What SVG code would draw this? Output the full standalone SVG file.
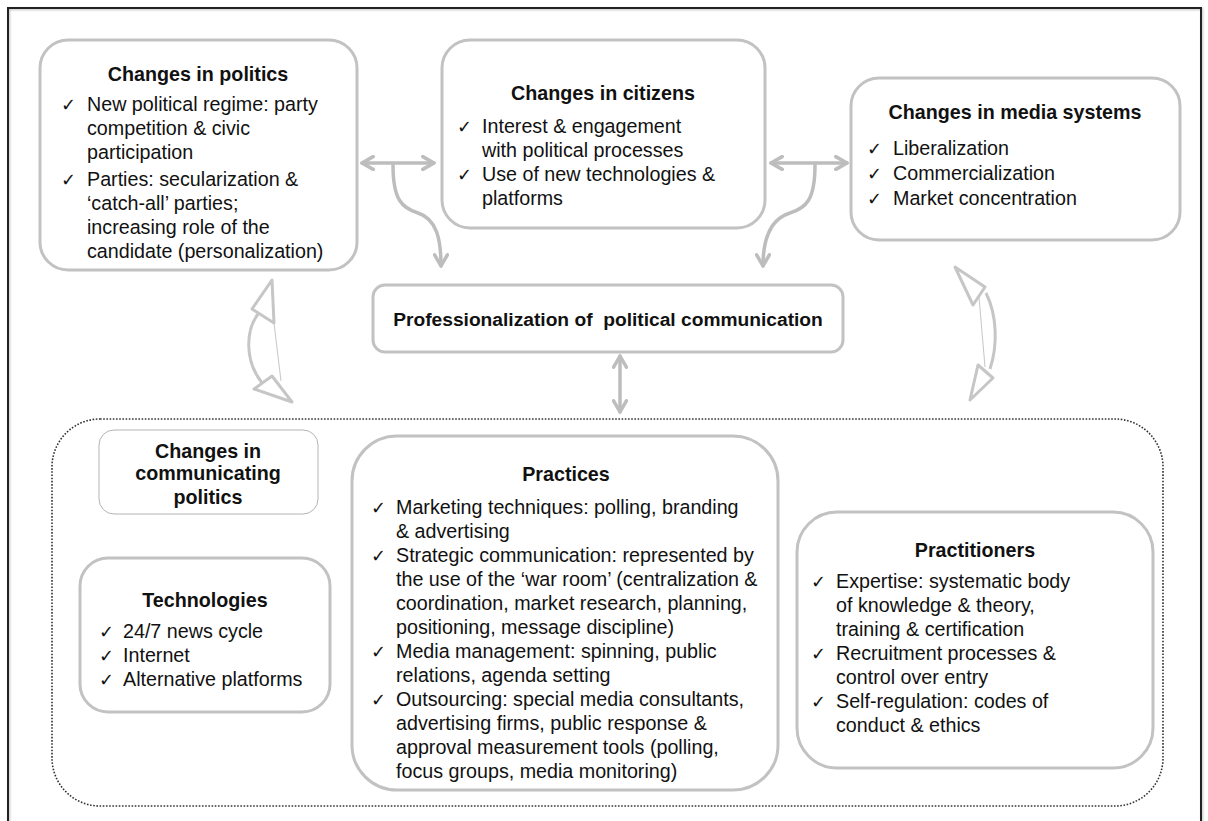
<svg xmlns="http://www.w3.org/2000/svg" width="1208" height="821" viewBox="0 0 1208 821">
  <defs>
    <style>
      .box { fill: #ffffff; stroke: #c2c2c2; stroke-width: 3; }
      .thin { fill: #ffffff; stroke: #b4b4b4; stroke-width: 1; }
      .t { font-family: "Liberation Sans", Arial, sans-serif; font-size: 19.7px; fill: #111111; }
      .h { font-weight: bold; text-anchor: middle; }
      .ck { font-family: "DejaVu Sans", sans-serif; font-size: 18px; fill: #111111; }
      .link { fill: none; stroke: #bdbdbd; stroke-width: 3.5; stroke-linecap: round; }
      .block { fill: #ffffff; stroke: #c6c6c6; stroke-width: 3; stroke-linejoin: round; }
      .seam { fill: none; stroke: #c6c6c6; stroke-width: 1; }
    </style>
    <marker id="chev" viewBox="0 0 10 10" refX="8.5" refY="5" markerUnits="userSpaceOnUse" markerWidth="16" markerHeight="16" orient="auto-start-reverse">
      <path d="M1.5,1 L8.5,5 L1.5,9" fill="none" stroke="#bdbdbd" stroke-width="2.2" stroke-linecap="round" stroke-linejoin="round"/>
    </marker>
    <filter id="shadow" x="-5%" y="-5%" width="110%" height="110%">
      <feDropShadow dx="1" dy="1" stdDeviation="1" flood-color="#000" flood-opacity="0.25"/>
    </filter>
  </defs>

  <rect width="1208" height="821" fill="#ffffff"/>
  <!-- page frame -->
  <rect x="8" y="8" width="1193" height="840" fill="none" stroke="#222" stroke-width="2" filter="url(#shadow)"/>

  <!-- dotted enclosure for communicating politics -->
  <rect id="enclosure" x="52" y="419" width="1111" height="387" rx="48" fill="none" stroke="#333" stroke-width="1.6" stroke-dasharray="1.6 1.6"/>

  <g id="politics">
    <rect class="box" x="40" y="40" width="317" height="230" rx="28"/>
    <text class="t h" x="198" y="81">Changes in politics</text>
    <text class="ck" x="61" y="111">✓</text>
    <text class="t" x="87" y="111">New political regime: party</text>
    <text class="t" x="87" y="135">competition &amp; civic</text>
    <text class="t" x="87" y="159">participation</text>
    <text class="ck" x="61" y="186">✓</text>
    <text class="t" x="87" y="186">Parties: secularization &amp;</text>
    <text class="t" x="87" y="210">‘catch-all’ parties;</text>
    <text class="t" x="87" y="234">increasing role of the</text>
    <text class="t" x="87" y="258">candidate (personalization)</text>
  </g>

  <g id="citizens">
    <rect class="box" x="442" y="40" width="323" height="188" rx="28"/>
    <text class="t h" x="603" y="100">Changes in citizens</text>
    <text class="ck" x="457" y="133">✓</text>
    <text class="t" x="482" y="133">Interest &amp; engagement</text>
    <text class="t" x="482" y="157">with political processes</text>
    <text class="ck" x="457" y="181">✓</text>
    <text class="t" x="482" y="181">Use of new technologies &amp;</text>
    <text class="t" x="482" y="205">platforms</text>
  </g>

  <g id="media">
    <rect class="box" x="851" y="78" width="329" height="162" rx="28"/>
    <text class="t h" x="1015" y="119">Changes in media systems</text>
    <text class="ck" x="867" y="155">✓</text>
    <text class="t" x="893" y="155">Liberalization</text>
    <text class="ck" x="867" y="180">✓</text>
    <text class="t" x="893" y="180">Commercialization</text>
    <text class="ck" x="867" y="205">✓</text>
    <text class="t" x="893" y="205">Market concentration</text>
  </g>

  <g id="professionalization">
    <rect class="box" x="373" y="285" width="470" height="67" rx="12"/>
    <text class="t h" x="608" y="326" style="font-size:19.2px; white-space:pre">Professionalization of  political communication</text>
  </g>

  <g id="communicating">
    <rect class="thin" x="99" y="430" width="219" height="84" rx="15"/>
    <text class="t h" x="208" y="458">Changes in</text>
    <text class="t h" x="208" y="480">communicating</text>
    <text class="t h" x="208" y="504">politics</text>
  </g>

  <g id="technologies">
    <rect class="box" x="80" y="558" width="250" height="154" rx="28"/>
    <text class="t h" x="205" y="607">Technologies</text>
    <text class="ck" x="99" y="638">✓</text>
    <text class="t" x="123" y="638">24/7 news cycle</text>
    <text class="ck" x="99" y="662">✓</text>
    <text class="t" x="123" y="662">Internet</text>
    <text class="ck" x="99" y="686">✓</text>
    <text class="t" x="123" y="686">Alternative platforms</text>
  </g>

  <g id="practices">
    <rect class="box" x="352" y="436" width="426" height="354" rx="45"/>
    <text class="t h" x="566" y="481">Practices</text>
    <text class="ck" x="371" y="514">✓</text>
    <text class="t" x="396" y="514">Marketing techniques: polling, branding</text>
    <text class="t" x="396" y="538">&amp; advertising</text>
    <text class="ck" x="371" y="562">✓</text>
    <text class="t" x="396" y="562">Strategic communication: represented by</text>
    <text class="t" x="396" y="586">the use of the ‘war room’ (centralization &amp;</text>
    <text class="t" x="396" y="610">coordination, market research, planning,</text>
    <text class="t" x="396" y="634">positioning, message discipline)</text>
    <text class="ck" x="371" y="658">✓</text>
    <text class="t" x="396" y="658">Media management: spinning, public</text>
    <text class="t" x="396" y="682">relations, agenda setting</text>
    <text class="ck" x="371" y="706">✓</text>
    <text class="t" x="396" y="706">Outsourcing: special media consultants,</text>
    <text class="t" x="396" y="730">advertising firms, public response &amp;</text>
    <text class="t" x="396" y="754">approval measurement tools (polling,</text>
    <text class="t" x="396" y="778">focus groups, media monitoring)</text>
  </g>

  <g id="practitioners">
    <rect class="box" x="797" y="512" width="356" height="256" rx="40"/>
    <text class="t h" x="975" y="557">Practitioners</text>
    <text class="ck" x="811" y="588">✓</text>
    <text class="t" x="836" y="588">Expertise: systematic body</text>
    <text class="t" x="836" y="612">of knowledge &amp; theory,</text>
    <text class="t" x="836" y="636">training &amp; certification</text>
    <text class="ck" x="811" y="660">✓</text>
    <text class="t" x="836" y="660">Recruitment processes &amp;</text>
    <text class="t" x="836" y="684">control over entry</text>
    <text class="ck" x="811" y="708">✓</text>
    <text class="t" x="836" y="708">Self-regulation: codes of</text>
    <text class="t" x="836" y="732">conduct &amp; ethics</text>
  </g>

  <g id="connectors">
    <!-- two-way links between the top boxes -->
    <line class="link" x1="362" y1="163" x2="434" y2="163" marker-start="url(#chev)" marker-end="url(#chev)"/>
    <line class="link" x1="771" y1="163" x2="847" y2="163" marker-start="url(#chev)" marker-end="url(#chev)"/>
    <!-- curved feeds into professionalization -->
    <path class="link" d="M393,165 C393,200 402,208 418,213 C437,219 441,240 441,266" marker-end="url(#chev)"/>
    <path class="link" d="M815,165 C815,200 806,208 790,213 C770,219 763,240 763,266" marker-end="url(#chev)"/>
    <!-- professionalization to communicating politics -->
    <line class="link" x1="620" y1="356" x2="620" y2="412" marker-start="url(#chev)" marker-end="url(#chev)"/>

    <!-- left curved block arrow -->
    <g id="left-block">
      <path class="block" d="M272,280 L274,323 L252,309 Z"/>
      <path class="block" d="M292,402 L254,389 L272,376 Z"/>
      <path class="block" style="fill:none" d="M258,314 C246,330 244,360 262,383"/>
      <path class="seam" d="M274,323 L281,381"/>
    </g>
    <!-- right curved block arrow -->
    <g id="right-block">
      <path class="block" d="M955,267 L985,287 L973,305 Z"/>
      <path class="block" d="M970,400 L978,365 L993,378 Z"/>
      <path class="block" style="fill:none" d="M986,293 C997,315 998,345 990,369"/>
      <path class="seam" d="M979,297 L985,367"/>
    </g>
  </g>
</svg>
